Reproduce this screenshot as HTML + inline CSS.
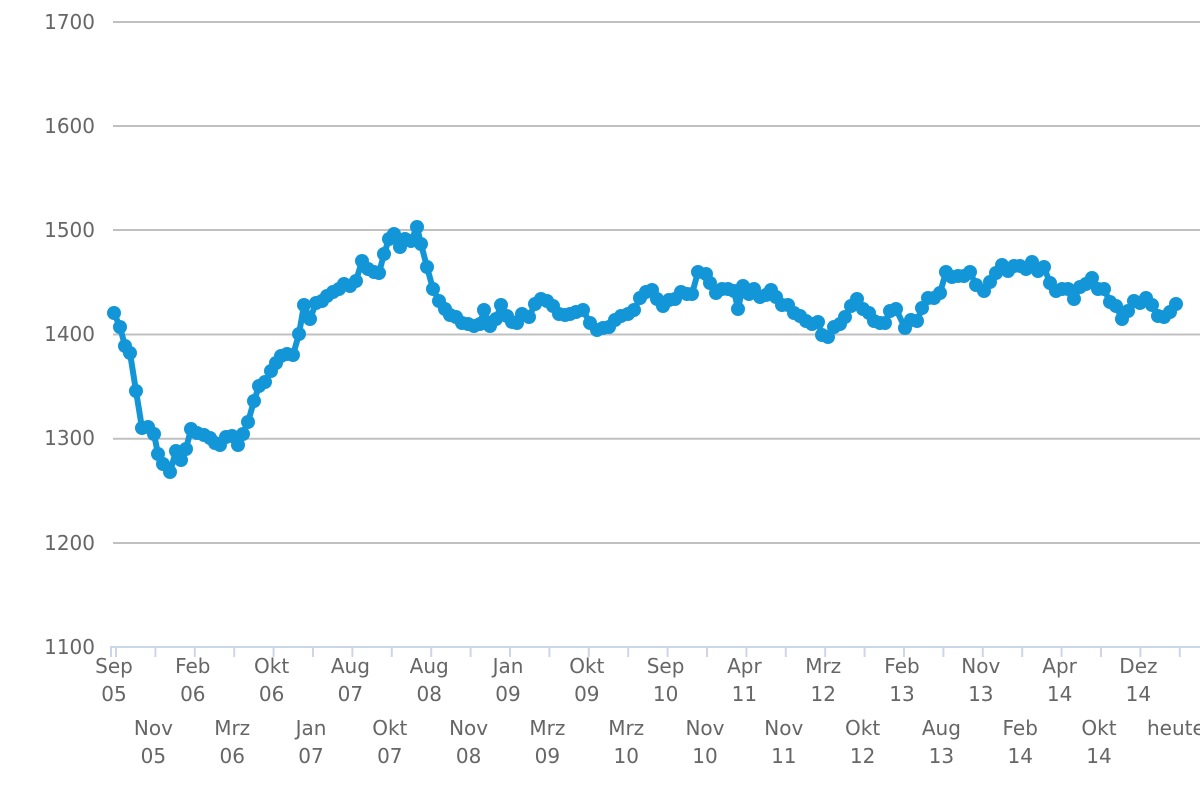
<!DOCTYPE html>
<html><head><meta charset="utf-8"><style>
html,body{margin:0;padding:0;background:#fff;}
svg{display:block;font-family:"DejaVu Sans","Liberation Sans",sans-serif;}
</style></head><body>
<svg width="1200" height="800" viewBox="0 0 1200 800" xmlns="http://www.w3.org/2000/svg">
<defs>
<marker id="dot" markerUnits="userSpaceOnUse" markerWidth="16" markerHeight="16" refX="8" refY="8" overflow="visible">
<circle cx="8" cy="8" r="7" fill="#1396d8"/>
</marker>
</defs>
<g stroke="#c0c0c0" stroke-width="2">
<line x1="113" x2="1200" y1="22" y2="22"/>
<line x1="113" x2="1200" y1="126" y2="126"/>
<line x1="113" x2="1200" y1="230" y2="230"/>
<line x1="113" x2="1200" y1="334.5" y2="334.5"/>
<line x1="113" x2="1200" y1="438.7" y2="438.7"/>
<line x1="113" x2="1200" y1="543" y2="543"/>
</g>
<line x1="110" x2="1200" y1="647" y2="647" stroke="#ccd6eb" stroke-width="2"/>
<path stroke="#ccd6eb" stroke-width="2" fill="none" d="M111 647v10M116 647v10M155.4 647v10M194.8 647v10M234.2 647v10M273.6 647v10M313 647v10M352.4 647v10M391.8 647v10M431.2 647v10M470.6 647v10M510 647v10M549.4 647v10M588.8 647v10M628.2 647v10M667.6 647v10M707 647v10M746.4 647v10M785.8 647v10M825.2 647v10M864.6 647v10M904 647v10M943.4 647v10M982.8 647v10M1022.2 647v10M1061.6 647v10M1101 647v10M1140.4 647v10M1179.8 647v10"/>
<g fill="#666" font-size="20" text-anchor="end">
<text x="95" y="29">1700</text>
<text x="95" y="133">1600</text>
<text x="95" y="237">1500</text>
<text x="95" y="341">1400</text>
<text x="95" y="445">1300</text>
<text x="95" y="550">1200</text>
<text x="95" y="654">1100</text>
</g>
<g fill="#666" font-size="20" text-anchor="middle">
<text x="114" y="673">Sep</text><text x="114" y="701">05</text>
<text x="192.8" y="673">Feb</text><text x="192.8" y="701">06</text>
<text x="271.6" y="673">Okt</text><text x="271.6" y="701">06</text>
<text x="350.4" y="673">Aug</text><text x="350.4" y="701">07</text>
<text x="429.2" y="673">Aug</text><text x="429.2" y="701">08</text>
<text x="508" y="673">Jan</text><text x="508" y="701">09</text>
<text x="586.8" y="673">Okt</text><text x="586.8" y="701">09</text>
<text x="665.6" y="673">Sep</text><text x="665.6" y="701">10</text>
<text x="744.4" y="673">Apr</text><text x="744.4" y="701">11</text>
<text x="823.2" y="673">Mrz</text><text x="823.2" y="701">12</text>
<text x="902" y="673">Feb</text><text x="902" y="701">13</text>
<text x="980.8" y="673">Nov</text><text x="980.8" y="701">13</text>
<text x="1059.6" y="673">Apr</text><text x="1059.6" y="701">14</text>
<text x="1138.4" y="673">Dez</text><text x="1138.4" y="701">14</text>
<text x="153.4" y="735">Nov</text><text x="153.4" y="763">05</text>
<text x="232.2" y="735">Mrz</text><text x="232.2" y="763">06</text>
<text x="311" y="735">Jan</text><text x="311" y="763">07</text>
<text x="389.8" y="735">Okt</text><text x="389.8" y="763">07</text>
<text x="468.6" y="735">Nov</text><text x="468.6" y="763">08</text>
<text x="547.4" y="735">Mrz</text><text x="547.4" y="763">09</text>
<text x="626.2" y="735">Mrz</text><text x="626.2" y="763">10</text>
<text x="705" y="735">Nov</text><text x="705" y="763">10</text>
<text x="783.8" y="735">Nov</text><text x="783.8" y="763">11</text>
<text x="862.6" y="735">Okt</text><text x="862.6" y="763">12</text>
<text x="941.4" y="735">Aug</text><text x="941.4" y="763">13</text>
<text x="1020.2" y="735">Feb</text><text x="1020.2" y="763">14</text>
<text x="1099" y="735">Okt</text><text x="1099" y="763">14</text>
<text x="1147" y="735" text-anchor="start">heute</text>
</g>
<polyline fill="none" stroke="#1396d8" stroke-width="6" stroke-linejoin="round" marker-start="url(#dot)" marker-mid="url(#dot)" marker-end="url(#dot)" points="114,313 120,327 125,346 130,353 136,391 142,428 148,427 154,434 158,454 163,464 170,472 176,451 181,460 186,449 191,429 197,433 204,435 210,438 215,443 220,445 226,437 232,436 238,445 243,434 248,422 254,401 259,386 265,382 271,371 276,363 281,356 287,354 293,355 299,334 304,305 310,319 316,303 322,301 327,296 333,292 339,289 344,284 350,286 356,281 362,261 368,269 374,272 379,273 384,254 389,239 394,234 400,247 405,239 411,241 417,227 421,244 427,267 433,289 439,301 445,309 450,315 456,317 462,323 468,324 474,326 480,324 484,310 490,326 496,319 501,305 507,316 512,322 517,323 522,314 529,317 535,304 541,299 547,301 553,306 559,314 565,315 570,314 576,312 583,310 590,323 597,330 603,328 609,327 615,320 621,316 628,314 634,310 640,298 646,292 652,290 657,299 663,306 669,300 675,299 681,292 687,294 692,294 698,272 706,274 710,283 716,293 722,289 728,289 734,291 738,309 743,286 749,294 754,289 760,297 766,295 771,290 776,297 782,305 788,305 794,313 800,316 806,321 812,324 818,322 822,335 828,337 834,327 840,324 845,317 851,306 857,299 863,309 869,313 874,321 880,323 885,323 890,311 896,309 905,328 911,320 917,321 922,308 928,298 934,298 940,293 946,272 952,277 958,276 964,276 970,272 976,285 984,291 990,282 996,273 1002,265 1008,271 1014,266 1020,266 1026,269 1032,262 1038,271 1044,267 1050,283 1056,291 1062,289 1068,289 1074,299 1080,287 1086,284 1092,278 1098,289 1104,289 1110,302 1116,306 1122,319 1128,311 1134,301 1140,303 1146,298 1152,305 1158,316 1164,317 1170,312 1176,304"/>
</svg>
</body></html>
